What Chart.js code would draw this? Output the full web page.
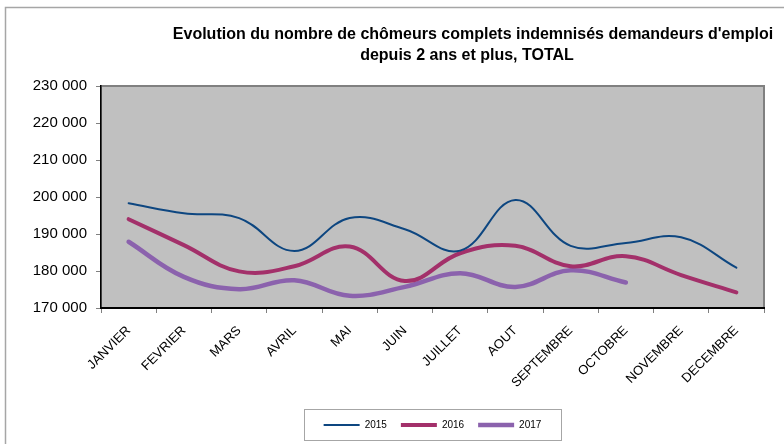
<!DOCTYPE html>
<html lang="fr">
<head>
<meta charset="utf-8">
<title>Chômeurs indemnisés depuis 2 ans et plus</title>
<script src="https://cdn.jsdelivr.net/npm/chart.js@4/dist/chart.umd.min.js"></script>
<style>
  html, body { margin: 0; padding: 0; background: #fff; }
  #wrap { width: 784px; height: 444px; }
</style>
</head>
<body>
<div id="wrap"><canvas id="chomeursChart" width="784" height="444"></canvas></div>
<script>
// === Données ===
const mois = ['JANVIER', 'FEVRIER', 'MARS', 'AVRIL', 'MAI', 'JUIN', 'JUILLET', 'AOUT', 'SEPTEMBRE', 'OCTOBRE', 'NOVEMBRE', 'DECEMBRE'];
const serie2015 = [198300, 195600, 194300, 185400, 194300, 191300, 185500, 199200, 186800, 187600, 189100, 180900];
const serie2016 = [194000, 187000, 179900, 181300, 186600, 177300, 184800, 186800, 181300, 184000, 178900, 174200];
const serie2017 = [187900, 178400, 175100, 177500, 173300, 175700, 179400, 175700, 180200, 176900, null, null];
const ticksY = [170000, 180000, 190000, 200000, 210000, 220000, 230000];
const titre = ["Evolution du nombre de chômeurs complets indemnisés demandeurs d'emploi", 'depuis 2 ans et plus, TOTAL'];

const fmt = v => String(v).replace(/\B(?=(\d{3})+(?!\d))/g, ' ');

// === Fond, cadre, titre, cadre de légende ===
const decor = {
    id: 'decor',
    beforeDraw(chart) {
        const { ctx, chartArea: a } = chart;
        ctx.save();
        ctx.fillStyle = '#fff';
        ctx.fillRect(0, 0, chart.width, chart.height);
        ctx.strokeStyle = '#a6a6a6';
        ctx.lineWidth = 1.5;
        ctx.strokeRect(5.5, 7.5, 900, 600);
        ctx.fillStyle = '#c0c0c0';
        ctx.fillRect(a.left, a.top, a.right - a.left, a.bottom - a.top);
        ctx.strokeStyle = '#808080';
        ctx.lineWidth = 2;
        ctx.strokeRect(a.left, a.top, a.right - a.left, a.bottom - a.top);
        ctx.restore();
    },
    afterDraw(chart) {
        const { ctx } = chart;
        ctx.save();
        ctx.fillStyle = '#000';
        ctx.font = 'bold 16px "Liberation Sans", Arial, sans-serif';
        ctx.textAlign = 'center';
        ctx.textBaseline = 'middle';
        ctx.fillText(titre[0], 473, 35);
        ctx.fillText(titre[1], 467, 56);
        ctx.strokeStyle = '#a6a6a6';
        ctx.lineWidth = 1;
        ctx.strokeRect(304.5, 409.5, 257, 31);
        ctx.restore();
    }
};

const ctx = document.getElementById('chomeursChart').getContext('2d');
new Chart(ctx, {
    type: 'line',
    data: {
        labels: mois,
        datasets: [
            { label: '2015', data: serie2015, borderColor: '#0d4680', borderWidth: 2 },
            { label: '2016', data: serie2016, borderColor: '#a3306a', borderWidth: 4 },
            { label: '2017', data: serie2017, borderColor: '#8b62ad', borderWidth: 4.5 }
        ]
    },
    options: {
        responsive: false,
        animation: false,
        devicePixelRatio: 1,
        datasets: {
            line: { tension: 0.4, pointRadius: 0, fill: false, spanGaps: false, borderCapStyle: 'round' }
        },
        layout: { padding: { top: 86, right: 20, bottom: 4, left: 0 } },
        plugins: {
            title: { display: false },
            tooltip: { enabled: false },
            legend: {
                position: 'bottom',
                fullSize: false,
                labels: {
                    usePointStyle: true,
                    pointStyle: 'line',
                    pointStyleWidth: 36,
                    padding: 14,
                    color: '#000',
                    font: { family: '"Liberation Sans", Arial, sans-serif', size: 10 }
                }
            }
        },
        scales: {
            x: {
                offset: true,
                grid: { display: true, drawOnChartArea: false, offset: true, tickLength: 5, color: '#808080' },
                border: { display: true, color: '#000', width: 2 },
                ticks: {
                    autoSkip: false,
                    minRotation: 45,
                    maxRotation: 45,
                    padding: 10,
                    color: '#000',
                    font: { family: '"Liberation Sans", Arial, sans-serif', size: 13 }
                },
                afterFit: s => { s.height = 98; }
            },
            y: {
                min: 170000,
                max: 230000,
                afterBuildTicks: s => { s.ticks = ticksY.map(v => ({ value: v })); },
                grid: { display: true, drawOnChartArea: false, tickLength: 5, color: '#808080' },
                border: { display: true, color: '#000', width: 1.5 },
                ticks: {
                    padding: 9,
                    color: '#000',
                    font: { family: '"Liberation Sans", Arial, sans-serif', size: 15 },
                    callback: v => fmt(v)
                },
                afterFit: s => { s.width = 101; }
            }
        }
    },
    plugins: [decor]
});
</script>
</body>
</html>
